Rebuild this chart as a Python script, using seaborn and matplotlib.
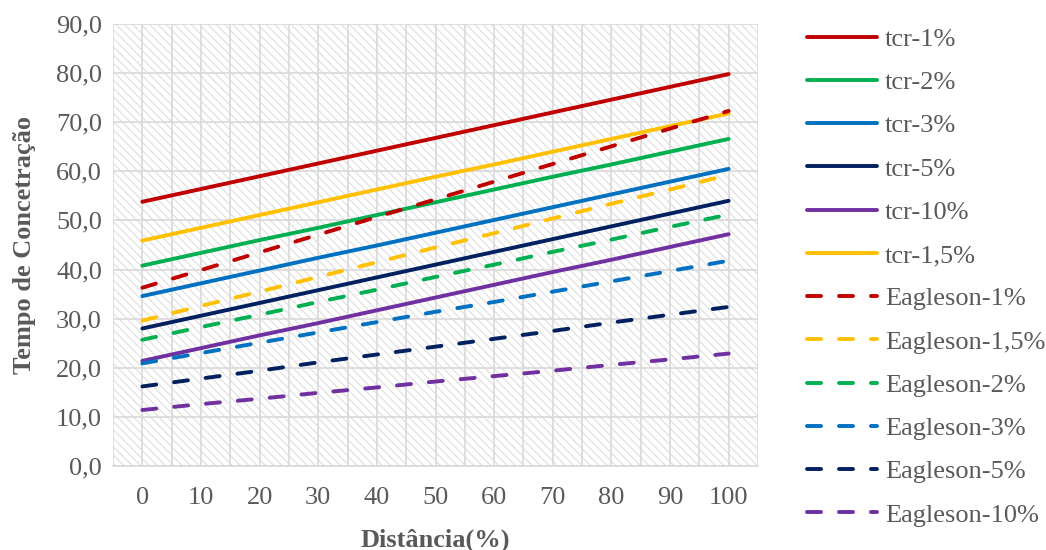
import numpy as np
import pandas as pd
import matplotlib
matplotlib.use("Agg")
import matplotlib.pyplot as plt
import seaborn as sns
from matplotlib.patches import Rectangle
from matplotlib.ticker import FuncFormatter

distancia = [0, 10, 20, 30, 40, 50, 60, 70, 80, 90, 100]

tcr_1 = [53.8, 56.4, 59.0, 61.6, 64.2, 66.8, 69.4, 72.0, 74.6, 77.2, 79.8]
tcr_2 = [40.8, 43.4, 46.0, 48.5, 51.1, 53.7, 56.3, 58.9, 61.4, 64.0, 66.6]
tcr_3 = [34.6, 37.2, 39.8, 42.4, 44.9, 47.5, 50.1, 52.7, 55.3, 57.9, 60.5]
tcr_5 = [28.0, 30.6, 33.2, 35.8, 38.4, 41.0, 43.6, 46.2, 48.8, 51.4, 54.0]
tcr_10 = [21.4, 24.0, 26.6, 29.1, 31.7, 34.3, 36.9, 39.5, 42.0, 44.6, 47.2]
tcr_15 = [45.9, 48.5, 51.1, 53.7, 56.3, 58.9, 61.4, 64.0, 66.6, 69.2, 71.8]
eag_1 = [36.3, 39.9, 43.5, 47.1, 50.7, 54.3, 57.9, 61.5, 65.1, 68.7, 72.3]
eag_15 = [29.6, 32.6, 35.5, 38.5, 41.5, 44.5, 47.4, 50.4, 53.4, 56.3, 59.3]
eag_2 = [25.7, 28.3, 30.8, 33.4, 35.9, 38.5, 41.0, 43.6, 46.1, 48.7, 51.2]
eag_3 = [20.9, 23.0, 25.1, 27.2, 29.3, 31.4, 33.4, 35.5, 37.6, 39.7, 41.8]
eag_5 = [16.2, 17.8, 19.4, 21.1, 22.7, 24.3, 25.9, 27.5, 29.2, 30.8, 32.4]
eag_10 = [11.4, 12.6, 13.7, 14.9, 16.0, 17.2, 18.3, 19.4, 20.6, 21.7, 22.9]

series_names = ["tcr-1%", "tcr-2%", "tcr-3%", "tcr-5%", "tcr-10%", "tcr-1,5%",
                "Eagleson-1%", "Eagleson-1,5%", "Eagleson-2%", "Eagleson-3%",
                "Eagleson-5%", "Eagleson-10%"]
series_values = [tcr_1, tcr_2, tcr_3, tcr_5, tcr_10, tcr_15,
                 eag_1, eag_15, eag_2, eag_3, eag_5, eag_10]

RED, GREEN, BLUE, NAVY, PURPLE, YELLOW = "#C00000", "#00B050", "#0070C0", "#002060", "#7030A0", "#FFC000"
colors = [RED, GREEN, BLUE, NAVY, PURPLE, YELLOW,
          RED, YELLOW, GREEN, BLUE, NAVY, PURPLE]
dashed = [False] * 6 + [True] * 6

y_ticks = [0, 10, 20, 30, 40, 50, 60, 70, 80, 90]
x_ticks = distancia

sns.set_theme(style="white")
plt.rcParams['font.family'] = ['Liberation Serif', 'DejaVu Serif']
plt.rcParams['hatch.linewidth'] = 0.8
TXT = "#595959"
FS = 19

fig = plt.figure(figsize=(10.46, 5.5), dpi=100)
ax = fig.add_axes([113 / 1046, 84 / 550, (758 - 113) / 1046, (466 - 24) / 550])

# hatched background
bg = Rectangle((0, 0), 1, 1, transform=ax.transAxes, facecolor="white",
               edgecolor="#dedede", hatch="\\\\\\\\", linewidth=0, zorder=0)
ax.add_patch(bg)

lw = 3.9 * 72 / 100
for name, vals, col, ds in zip(series_names, series_values, colors, dashed):
    sns.lineplot(x=distancia, y=vals, color=col, ax=ax, label=name,
                 linewidth=lw, zorder=3)
    line = ax.lines[-1]
    line.set_solid_capstyle("round")
    if ds:
        line.set_dashes((3.6, 4.6))
        line.set_dash_capstyle("round")

ax.set_xlim(-5, 105)
ax.set_ylim(0, 90)
ax.set_yticks(y_ticks)
ax.set_xticks(x_ticks)
ax.yaxis.set_major_formatter(FuncFormatter(lambda v, p: f"{v:.1f}".replace(".", ",")))

for v in y_ticks:
    ax.axhline(v, color="#d9d9d9", linewidth=1.2, zorder=1)
for v in np.arange(-5, 106, 5):
    ax.axvline(v, color="#d9d9d9", linewidth=1.2, zorder=1)

for s in ["top", "right", "left"]:
    ax.spines[s].set_visible(False)
ax.spines["bottom"].set_color("#d9d9d9")
ax.spines["bottom"].set_linewidth(1.2)

ax.tick_params(axis="both", length=0, labelsize=FS, labelcolor=TXT)
ax.tick_params(axis="x", pad=15)
ax.tick_params(axis="y", pad=8)

ax.set_xlabel("Distância(%)", fontsize=FS, fontweight="bold", color=TXT, labelpad=14)
ax.set_ylabel("Tempo de Concetração", fontsize=FS, fontweight="bold", color=TXT, labelpad=14)

handles, labels = ax.get_legend_handles_labels()
ax.get_legend().remove()
leg = fig.legend(handles, labels, loc="center left", bbox_to_anchor=(807 / 1046, 1 - 277 / 550),
                 frameon=False, fontsize=FS, handlelength=2.65, handletextpad=0.3,
                 labelspacing=0.75, borderaxespad=0, borderpad=0)
for t in leg.get_texts():
    t.set_color(TXT)

fig.savefig("out.png", dpi=100)
